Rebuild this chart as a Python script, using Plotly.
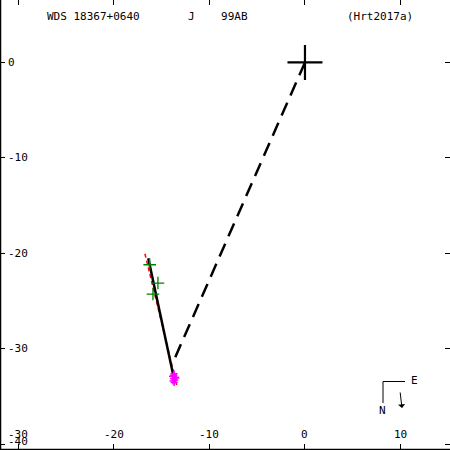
import plotly.graph_objects as go

# Data (units)
primary_x = [0.0]
primary_y = [0.0]

fit_x = [-16.39, -13.60]
fit_y = [-20.50, -33.56]

alt_fit_x = [-16.74, -13.42]
alt_fit_y = [-20.03, -33.77]

link_x = [0.0, -13.91]
link_y = [0.0, -31.64]

green_x = [-16.24, -15.38, -15.90]
green_y = [-21.18, -23.10, -24.25]

magenta_x = [-13.70, -13.85, -13.55, -13.75, -13.62, -13.80, -13.50, -13.68, -13.72]
magenta_y = [-32.60, -32.85, -32.95, -33.10, -33.25, -33.35, -33.05, -33.50, -32.75]

x_range = [-31.9, 15.17]
y_range = [-40.58, 6.54]

x_ticks = [-30, -20, -10, 0, 10]
y_ticks = [0, -10, -20, -30, -40]

title_left = "WDS 18367+0640"
title_mid = "J    99AB"
title_right = "(Hrt2017a)"

FONT = "DejaVu Sans Mono"
FS = 11

fig = go.Figure()

fig.add_trace(go.Scatter(x=alt_fit_x, y=alt_fit_y, mode="lines",
                         line=dict(color="red", width=1.5, dash="4px,3px"),
                         hoverinfo="skip"))
fig.add_trace(go.Scatter(x=fit_x, y=fit_y, mode="lines",
                         line=dict(color="black", width=2.5)))
fig.add_trace(go.Scatter(x=link_x, y=link_y, mode="lines",
                         line=dict(color="black", width=2.5, dash="14px,8px")))
fig.add_trace(go.Scatter(x=green_x, y=green_y, mode="markers",
                         marker=dict(symbol="cross-thin", size=9,
                                     line=dict(color="green", width=1.3))))
fig.add_trace(go.Scatter(x=magenta_x, y=magenta_y, mode="markers",
                         marker=dict(symbol="cross-thin", size=5,
                                     line=dict(color="magenta", width=1.5))))
fig.add_trace(go.Scatter(x=primary_x, y=primary_y, mode="markers",
                         marker=dict(symbol="cross-thin", size=25,
                                     line=dict(color="black", width=2.2))))

base = dict(showgrid=False, zeroline=False, ticks="inside",
            tickcolor="black", tickwidth=1, showticklabels=False,
            automargin=False, showline=False)

fig.update_layout(
    xaxis=dict(range=x_range, tickvals=x_ticks, ticklen=6, **base),
    yaxis=dict(range=y_range, tickvals=y_ticks, ticklen=5, **base),
    xaxis2=dict(range=x_range, tickvals=x_ticks, ticklen=5, overlaying="x",
                side="top", anchor="y", **base),
    yaxis2=dict(range=y_range, tickvals=y_ticks, ticklen=5, overlaying="y",
                side="right", anchor="x", **base),
)
# invisible trace to activate the mirrored axes
fig.add_trace(go.Scatter(x=[x_range[0]], y=[y_range[0]], xaxis="x2", yaxis="y2",
                         mode="markers", marker=dict(opacity=0), hoverinfo="skip"))

def px(x):
    return x / 450.0

def py(y):
    return 1 - y / 450.0

def lab(v):
    return ("-" + str(-v)) if v < 0 else str(v)

# frame lines (left and bottom)
fig.add_shape(type="line", xref="paper", yref="paper",
              x0=px(0.6), y0=0, x1=px(0.6), y1=1,
              line=dict(color="black", width=1.3))
fig.add_shape(type="line", xref="paper", yref="paper",
              x0=0, y0=py(449.4), x1=1, y1=py(449.4),
              line=dict(color="black", width=1.3))

# tick labels
for v in x_ticks:
    fig.add_annotation(xref="x", yref="paper", x=v, y=py(434), text=lab(v),
                       showarrow=False, xanchor="center", yanchor="middle",
                       font=dict(family=FONT, size=FS, color="black"))
for v in y_ticks:
    shift = 3 if v == min(y_ticks) else 0
    fig.add_annotation(xref="paper", yref="y", x=px(6), y=v, text=lab(v),
                       showarrow=False, xanchor="left", yanchor="middle",
                       yshift=shift,
                       font=dict(family=FONT, size=FS, color="black"))

annots = [
    dict(text=title_left, x=px(45), y=py(16), xanchor="left"),
    dict(text=title_mid, x=px(186), y=py(16), xanchor="left"),
    dict(text=title_right, x=px(345), y=py(16), xanchor="left"),
    dict(text="E", x=px(409), y=py(380), xanchor="left"),
    dict(text="N", x=px(382), y=py(410), xanchor="center"),
]
for a in annots:
    fig.add_annotation(xref="paper", yref="paper", showarrow=False,
                       yanchor="middle", font=dict(family=FONT, size=FS, color="black"),
                       **a)

# compass arrow
fig.add_annotation(xref="paper", yref="paper", axref="pixel", ayref="pixel",
                   x=px(402), y=py(408), ax=-2, ay=-17,
                   showarrow=True, arrowhead=1, arrowsize=1.2, arrowwidth=1,
                   arrowcolor="black", text="")

fig.add_shape(type="line", xref="paper", yref="paper",
              x0=px(383), y0=py(381.5), x1=px(405), y1=py(381.5),
              line=dict(color="black", width=1))
fig.add_shape(type="line", xref="paper", yref="paper",
              x0=px(383), y0=py(381.5), x1=px(383), y1=py(403),
              line=dict(color="black", width=1))

fig.update_layout(width=450, height=450, margin=dict(l=0, r=0, t=0, b=0, pad=0),
                  paper_bgcolor="white", plot_bgcolor="white",
                  showlegend=False)

fig.write_html("out.html", config={"displayModeBar": False},
               post_script="document.body.style.margin='0px';document.body.style.overflow='hidden';")
